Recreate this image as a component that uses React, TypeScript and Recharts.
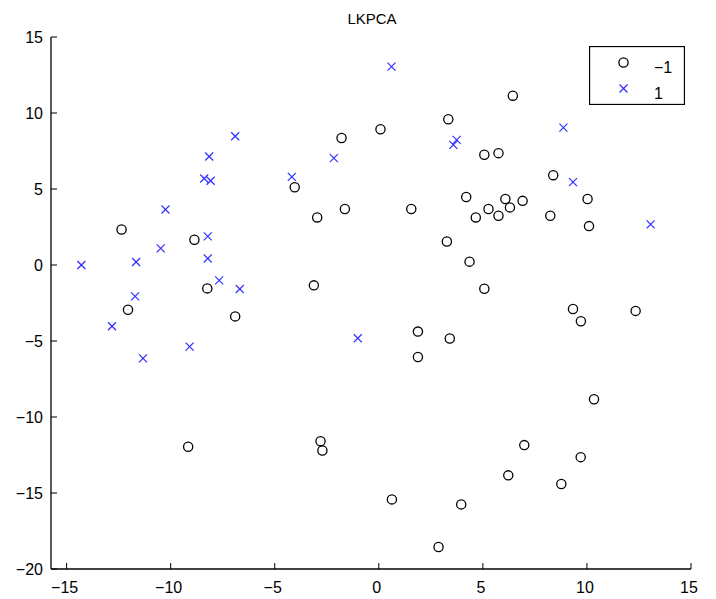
import React from "react";
import { ScatterChart, Scatter, XAxis, YAxis, Legend } from "recharts";

const negX = [-12.36, -8.86, -8.24, -4.04, -2.96, -1.63, -1.79, 0.08, -3.12, -12.05, -6.9, -9.16, -2.8, -2.71, 6.44, 3.34, 5.07, 5.75, 8.38, 4.2, 10.03, 6.08, 6.91, 6.3, 5.27, 5.75, 4.66, 1.56, 8.24, 10.1, 3.27, 4.36, 5.07, 9.33, 9.71, 12.34, 1.88, 3.41, 1.88, 10.34, 6.99, 9.7, 6.22, 8.77, 0.63, 3.96, 2.87];
const negY = [2.34, 1.66, -1.54, 5.12, 3.13, 3.68, 8.36, 8.93, -1.34, -2.94, -3.38, -11.96, -11.59, -12.2, 11.14, 9.59, 7.25, 7.36, 5.91, 4.47, 4.34, 4.34, 4.22, 3.79, 3.68, 3.24, 3.13, 3.68, 3.24, 2.56, 1.55, 0.22, -1.56, -2.89, -3.7, -3.02, -4.38, -4.84, -6.05, -8.83, -11.85, -12.64, -13.84, -14.41, -15.42, -15.75, -18.55];
const posX = [-14.29, -11.66, -10.48, -10.25, -8.39, -8.08, -8.15, -6.9, -8.22, -8.22, -7.67, -6.68, -11.71, -4.18, -2.16, -12.82, -11.33, -9.09, -1.01, 0.61, 8.87, 3.74, 3.58, 9.33, 13.06];
const posY = [0, 0.2, 1.09, 3.65, 5.69, 5.54, 7.14, 8.47, 1.88, 0.43, -1.01, -1.58, -2.06, 5.8, 7.03, -4.03, -6.14, -5.37, -4.82, 13.05, 9.04, 8.23, 7.9, 5.45, 2.67];
const xTicks = [-15, -10, -5, 0, 5, 10, 15];
const yTicks = [-20, -15, -10, -5, 0, 5, 10, 15];
const seriesNames = ["-1", "1"];
const title = "LKPCA";

const negData = negX.map((x, i) => ({ x, y: negY[i] }));
const posData = posX.map((x, i) => ({ x, y: posY[i] }));

const FONT = "'Liberation Sans', Arial, sans-serif";
const BLUE = "#3030ff";

const fmt = (v: number) => (v < 0 ? "\u2212" + Math.abs(v) : String(v));

const XTick = (props: any) => {
  const { x, y, payload } = props;
  return (
    <g>
      <line x1={x} x2={x} y1={y} y2={y - 6} stroke="#000" strokeWidth={1} />
      <text x={x - 2} y={y + 24} textAnchor="middle" fontFamily={FONT} fontSize={16} fill="#000">
        {fmt(payload.value)}
      </text>
    </g>
  );
};

const YTick = (props: any) => {
  const { x, y, payload } = props;
  return (
    <g>
      <line x1={x} x2={x + 6} y1={y} y2={y} stroke="#000" strokeWidth={1} />
      <text x={x - 8} y={y + 6} textAnchor="end" fontFamily={FONT} fontSize={16} fill="#000">
        {fmt(payload.value)}
      </text>
    </g>
  );
};

const CircleShape = (props: any) => {
  const { cx, cy } = props;
  return <circle cx={cx} cy={cy} r={4.6} fill="none" stroke="#000" strokeWidth={1.3} />;
};

const CrossShape = (props: any) => {
  const { cx, cy } = props;
  const s = 4;
  return (
    <g stroke={BLUE} strokeWidth={1.2}>
      <line x1={cx - s} y1={cy - s} x2={cx + s} y2={cy + s} />
      <line x1={cx - s} y1={cy + s} x2={cx + s} y2={cy - s} />
    </g>
  );
};

const LegendBox = () => (
  <svg width={96} height={59} style={{ display: "block" }}>
    <rect x={0.5} y={0.5} width={95} height={58} fill="#fff" stroke="#000" strokeWidth={1.3} />
    <circle cx={34.5} cy={16.5} r={4.6} fill="none" stroke="#000" strokeWidth={1.3} />
    <text x={65} y={26.5} fontFamily={FONT} fontSize={16} fill="#000">
      {fmt(Number(seriesNames[0]))}
    </text>
    <g stroke={BLUE} strokeWidth={1.2}>
      <line x1={30.5} y1={38.5} x2={38.5} y2={46.5} />
      <line x1={30.5} y1={46.5} x2={38.5} y2={38.5} />
    </g>
    <text x={65} y={52.5} fontFamily={FONT} fontSize={16} fill="#000">
      {seriesNames[1]}
    </text>
  </svg>
);

export default function App() {
  return (
    <div style={{ position: "absolute", left: 0, top: 0, width: 716, height: 599, background: "#fff" }}>
      <div
        style={{
          position: "absolute",
          left: 272,
          width: 200,
          top: 9,
          textAlign: "center",
          fontFamily: FONT,
          fontSize: 15,
          lineHeight: "20px",
          color: "#000",
        }}
      >
        {title}
      </div>
      <ScatterChart width={716} height={599} margin={{ top: 37, right: 25, bottom: 0, left: 0 }}>
        <XAxis
          type="number"
          dataKey="x"
          domain={[-15.75, 15]}
          ticks={xTicks}
          allowDataOverflow
          height={30}
          tickSize={0}
          tickMargin={0}
          tickLine={false}
          tick={<XTick />}
          axisLine={{ stroke: "#000", strokeWidth: 1.3 }}
          interval={0}
        />
        <YAxis
          type="number"
          dataKey="y"
          domain={[-20, 15]}
          ticks={yTicks}
          allowDataOverflow
          width={51}
          tickSize={0}
          tickMargin={0}
          tickLine={false}
          tick={<YTick />}
          axisLine={{ stroke: "#000", strokeWidth: 1.3 }}
          interval={0}
        />
        <Legend
          layout="vertical"
          align="center"
          verticalAlign="middle"
          content={<LegendBox />}
          wrapperStyle={{ position: "absolute", left: 589, top: 46, width: 96, height: 59 }}
        />
        <Scatter name={seriesNames[0]} data={negData} shape={<CircleShape />} isAnimationActive={false} />
        <Scatter name={seriesNames[1]} data={posData} shape={<CrossShape />} isAnimationActive={false} />
      </ScatterChart>
    </div>
  );
}
